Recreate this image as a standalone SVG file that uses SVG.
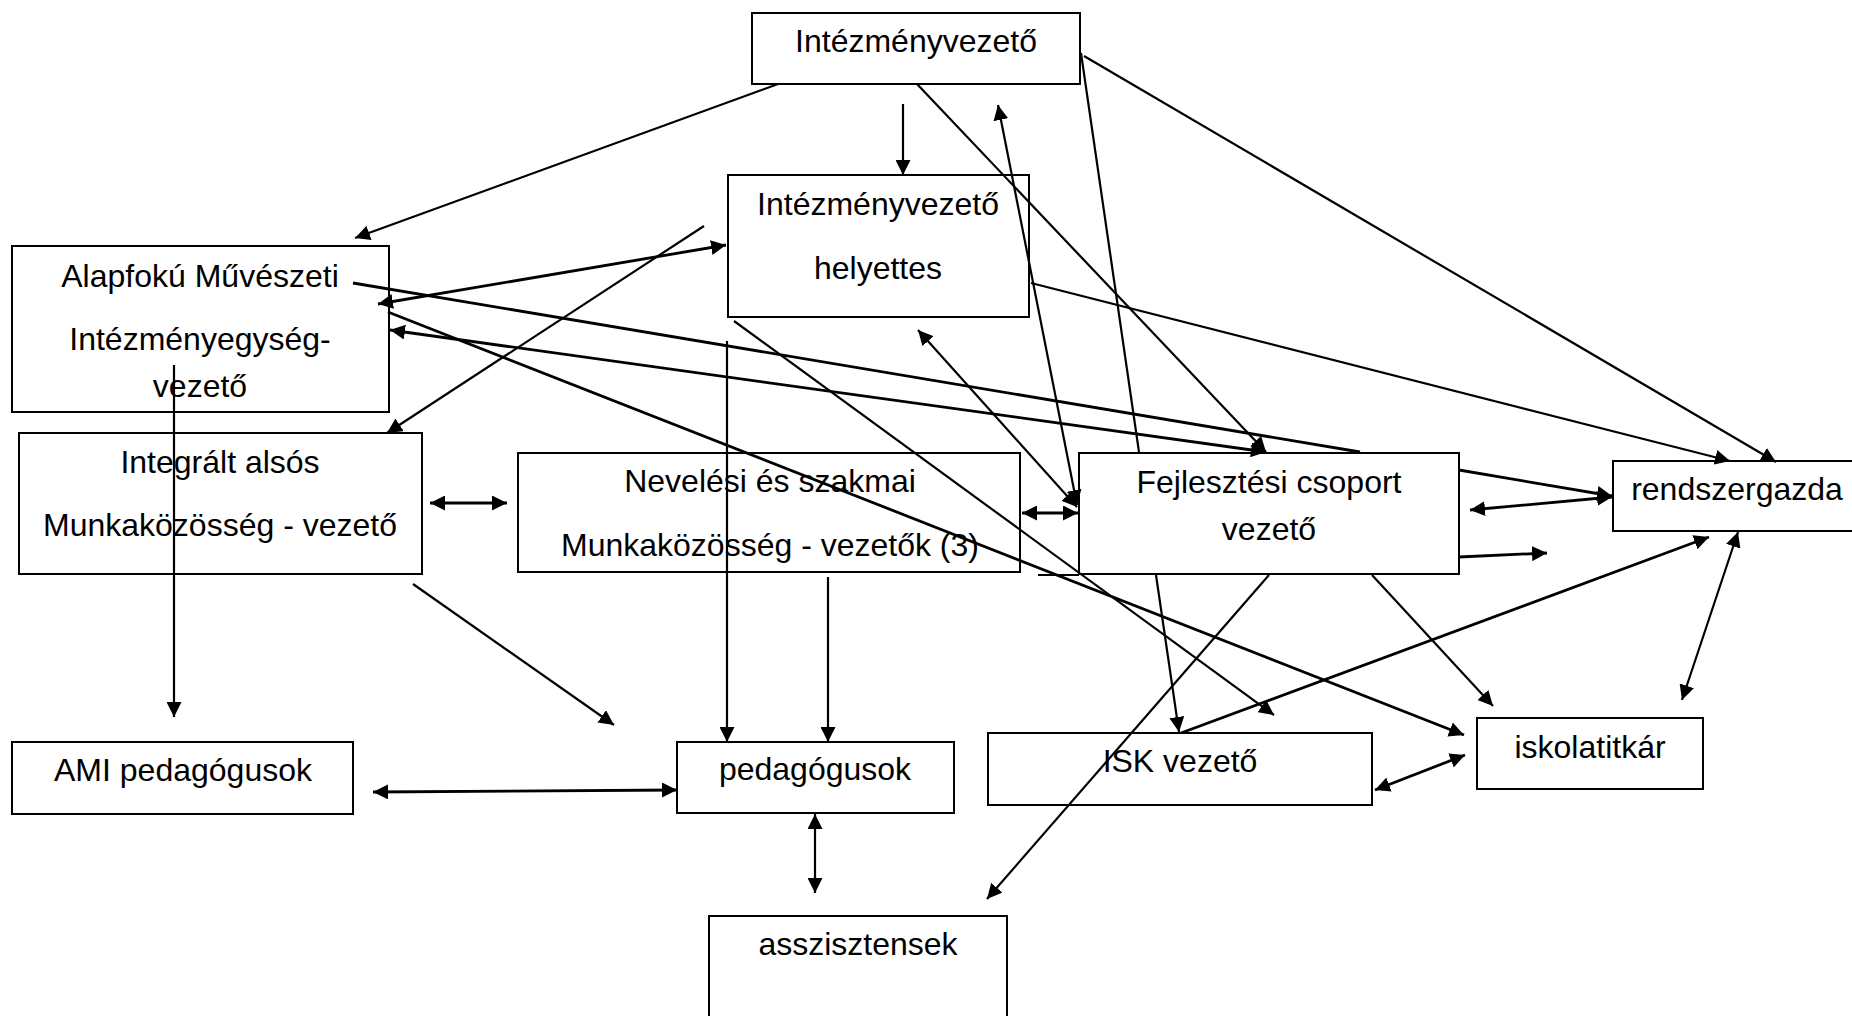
<svg xmlns="http://www.w3.org/2000/svg" width="1852" height="1016" viewBox="0 0 1852 1016">
<style>
.box{fill:#fff;stroke:#000;stroke-width:2}
.t{font-family:"Liberation Sans",Arial,sans-serif;font-size:32px;fill:#000;text-anchor:middle}
.c{stroke:#000;stroke-width:2.2;fill:none}
.k{stroke-width:2.8}
.e{marker-end:url(#ah)}
.b{marker-start:url(#ah);marker-end:url(#ah)}
</style>
<defs>
<marker id="ah" markerUnits="userSpaceOnUse" markerWidth="16" markerHeight="15" refX="15" refY="7.5" orient="auto-start-reverse" viewBox="0 0 16 15">
<path d="M0,0 L15,7.5 L0,15 z" fill="#000"/>
</marker>
</defs>
<rect width="1852" height="1016" fill="#fff"/>
<g id="n-intezmenyvezeto"><rect class="box" x="752" y="13" width="328" height="71"/><text class="t" x="916" y="52">Intézményvezető</text></g>
<g id="n-helyettes"><rect class="box" x="728" y="175" width="301" height="142"/><text class="t" x="878" y="215">Intézményvezető</text><text class="t" x="878" y="279">helyettes</text></g>
<g id="n-alapfoku"><rect class="box" x="12" y="246" width="377" height="166"/><text class="t" x="200" y="287">Alapfokú Művészeti</text><text class="t" x="200" y="350">Intézményegység-</text><text class="t" x="200" y="397">vezető</text></g>
<g id="n-integralt"><rect class="box" x="19" y="433" width="403" height="141"/><text class="t" x="220" y="473">Integrált alsós</text><text class="t" x="220" y="536">Munkaközösség - vezető</text></g>
<g id="n-nevelesi"><rect class="box" x="518" y="453" width="502" height="119"/><text class="t" x="770" y="492">Nevelési és szakmai</text><text class="t" x="770" y="556">Munkaközösség - vezetők (3)</text></g>
<g id="n-fejlesztesi"><rect class="box" x="1079" y="453" width="380" height="121"/><text class="t" x="1269" y="493">Fejlesztési csoport</text><text class="t" x="1269" y="540">vezető</text></g>
<g id="n-rendszergazda"><rect class="box" x="1613" y="461" width="245" height="70"/><text class="t" x="1737" y="500">rendszergazda</text></g>
<g id="n-iskolatitkar"><rect class="box" x="1477" y="718" width="226" height="71"/><text class="t" x="1590" y="758">iskolatitkár</text></g>
<g id="n-isk"><rect class="box" x="988" y="733" width="384" height="72"/><text class="t" x="1180" y="772">ISK vezető</text></g>
<g id="n-ami"><rect class="box" x="12" y="742" width="341" height="72"/><text class="t" x="183" y="781">AMI pedagógusok</text></g>
<g id="n-pedagogusok"><rect class="box" x="677" y="742" width="277" height="71"/><text class="t" x="815" y="780">pedagógusok</text></g>
<g id="n-asszisztensek"><rect class="box" x="709" y="916" width="298" height="120"/><text class="t" x="858" y="955">asszisztensek</text></g>
<g id="connectors">
<line class="c e" x1="778" y1="84" x2="355" y2="238"/>
<line class="c e" x1="903" y1="104" x2="903" y2="175"/>
<line class="c e" x1="917" y1="84" x2="1266" y2="452"/>
<line class="c e" x1="1084" y1="56" x2="1776" y2="462"/>
<line class="c" x1="1081" y1="53" x2="1139" y2="452"/>
<line class="c b" x1="998" y1="105" x2="1077" y2="505"/>
<line class="c b" x1="918" y1="330" x2="1077" y2="507"/>
<line class="c b k" x1="1022" y1="513" x2="1078" y2="513"/>
<line class="c e" x1="1031" y1="283" x2="1730" y2="461"/>
<line class="c b k" x1="378" y1="304" x2="726" y2="245"/>
<line class="c e" x1="704" y1="226" x2="387" y2="433"/>
<line class="c b k" x1="390" y1="330" x2="1266" y2="452"/>
<line class="c k" x1="353" y1="283" x2="1360" y2="452"/>
<line class="c e" x1="734" y1="321" x2="1274" y2="715"/>
<line class="c e k" x1="388" y1="312" x2="1464" y2="735"/>
<line class="c" x1="1038" y1="575" x2="1079" y2="575"/>
<line class="c e k" x1="1459" y1="470" x2="1612" y2="496"/>
<line class="c b k" x1="1470" y1="510" x2="1612" y2="497"/>
<line class="c e k" x1="1459" y1="557" x2="1547" y2="553"/>
<line class="c e" x1="1156" y1="575" x2="1179" y2="732"/>
<line class="c e k" x1="1181" y1="733" x2="1709" y2="537"/>
<line class="c e" x1="1269" y1="575" x2="987" y2="899"/>
<line class="c e" x1="1372" y1="575" x2="1493" y2="706"/>
<line class="c b" x1="1682" y1="700" x2="1738" y2="532"/>
<line class="c b k" x1="1375" y1="790" x2="1465" y2="755"/>
<line class="c b k" x1="430" y1="503" x2="507" y2="503"/>
<line class="c e" x1="413" y1="584" x2="614" y2="725"/>
<line class="c e" x1="174" y1="365" x2="174" y2="717"/>
<line class="c e" x1="727" y1="341" x2="727" y2="742"/>
<line class="c e" x1="828" y1="577" x2="828" y2="742"/>
<line class="c b k" x1="373" y1="792" x2="677" y2="790"/>
<line class="c b" x1="815" y1="814" x2="815" y2="893"/>
</g>
</svg>
